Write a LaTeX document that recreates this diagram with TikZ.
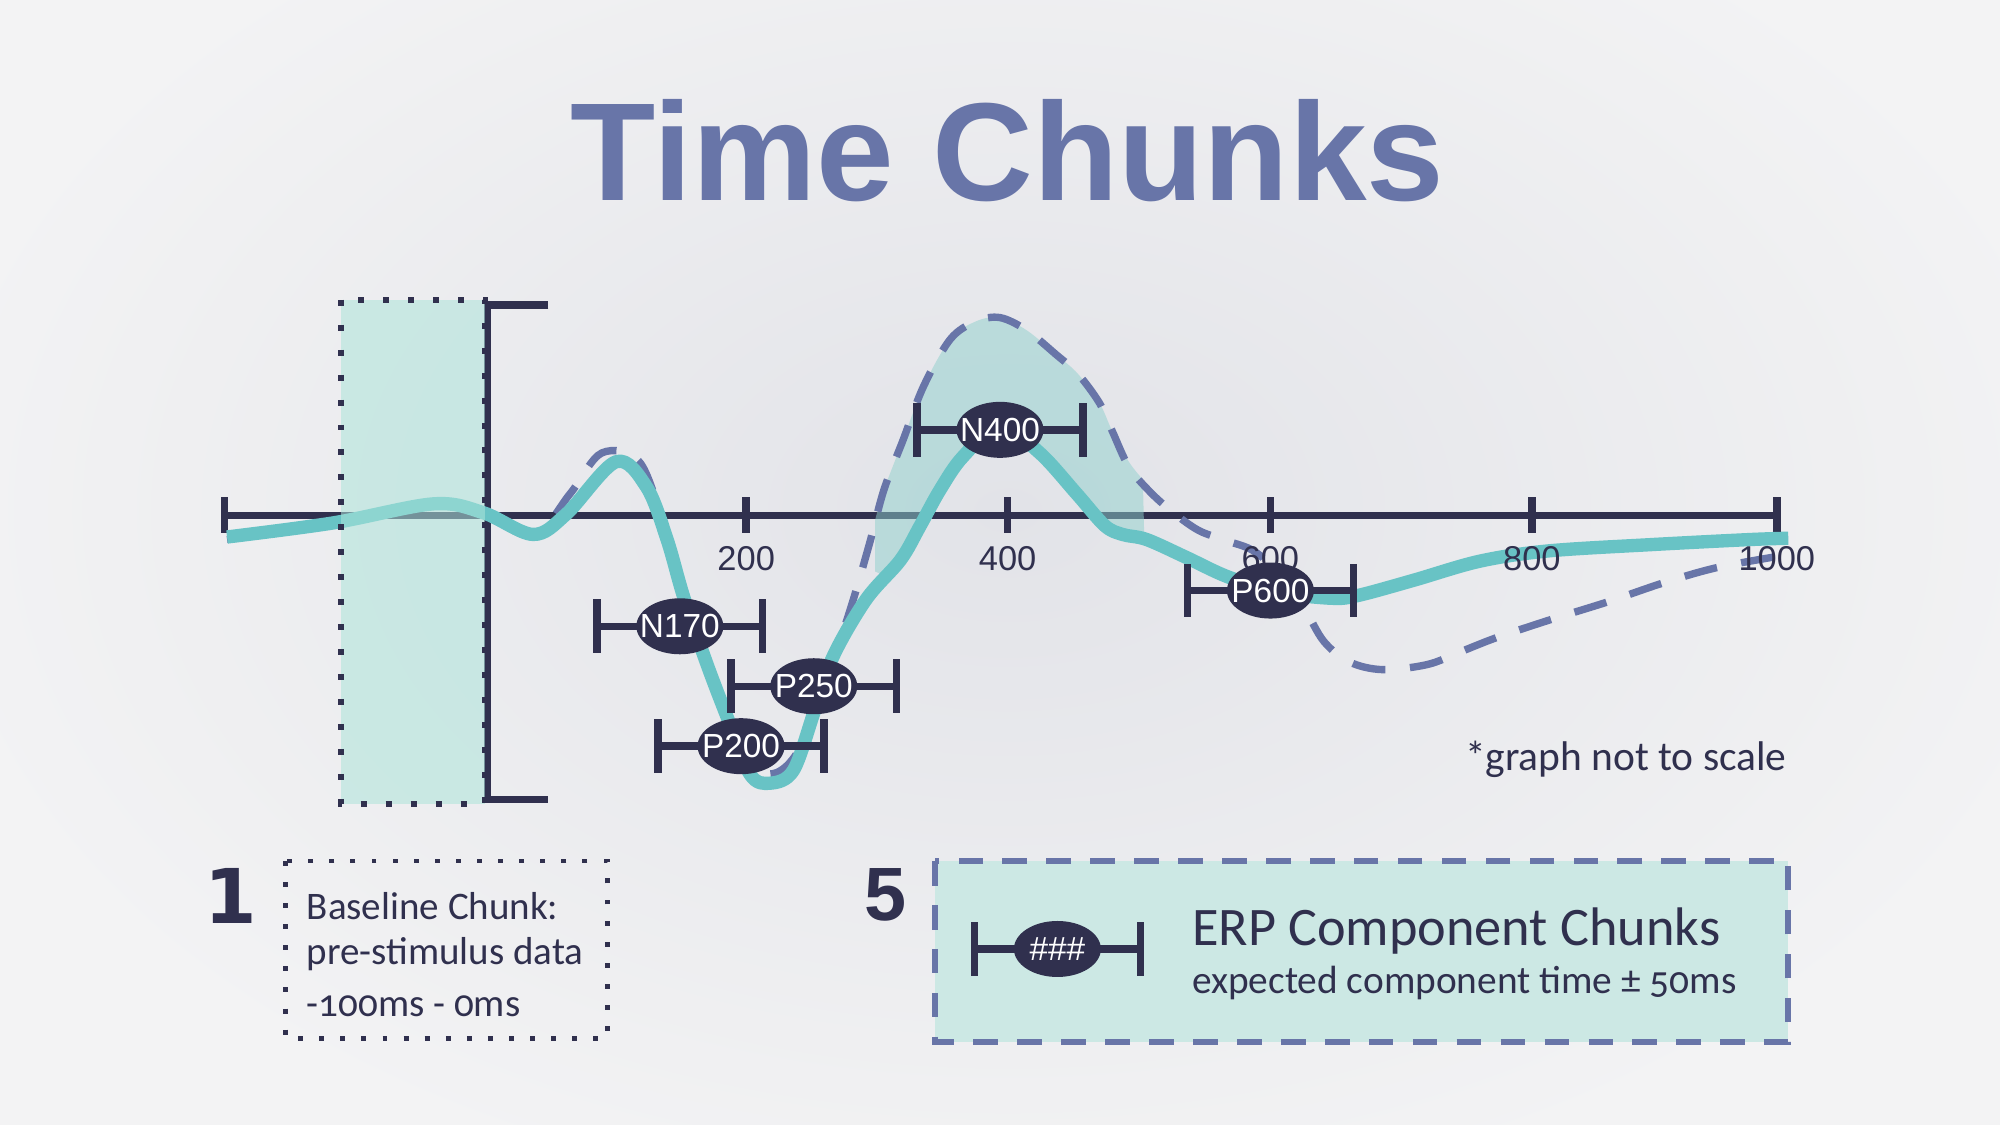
\documentclass[tikz,border=0pt]{standalone}
\usepackage{fontspec}
\usetikzlibrary{shapes.geometric}
\newfontfamily\bodyfont{Carlito}[Numbers=OldStyle]
\newfontfamily\arialfont{Liberation Sans}
\newfontfamily\dejafont{DejaVu Sans}
\definecolor{navy}{RGB}{48,48,78}
\definecolor{myteal}{RGB}{104,195,197}
\definecolor{purp}{RGB}{104,117,168}
\definecolor{boxfill}{RGB}{204,232,228}
\definecolor{basefill}{RGB}{173,228,218}
\definecolor{regionfill}{RGB}{143,208,205}
\definecolor{bgout}{RGB}{243,243,244}
\definecolor{bgin}{RGB}{226,227,232}
\tikzset{
  axisline/.style={line width=2.1pt, draw=navy},
  barline/.style={line width=2.1pt, draw=navy},
  tealcurve/.style={line width=3.8pt, draw=myteal, line join=round},
  dashcurve/.style={line width=2.1pt, draw=purp, dash pattern=on 9.5pt off 7pt},
  lbl/.style={ellipse, fill=navy, text=white, inner sep=0pt, minimum width=0.87cm, minimum height=0.56cm, font=\arialfont\fontsize{9.5pt}{10pt}\selectfont},
  ticklbl/.style={text=navy, inner sep=0pt, anchor=base, font=\arialfont\fontsize{9.8pt}{10pt}\selectfont},
  bodytext/.style={text=navy, inner sep=0pt, anchor=base west},
  dotbox/.style={draw=navy, line width=1.7pt, dash pattern=on 1.7pt off 5.4pt},
  smalldotbox/.style={draw=navy, line width=1.4pt, dash pattern=on 1.4pt off 4.6pt},
  erpbox/.style={draw=purp, fill=boxfill, line width=1.7pt, dash pattern=on 7pt off 5.5pt},
}
\newcommand\erpchunk[4]{%
  \coordinate (#1L) at ({#2-65},#3);
  \coordinate (#1R) at ({#2+65},#3);
  \draw[barline] (#1L) -- (#1R);
  \draw[barline] (#1L) ++(0,-21) -- ++(0,42);
  \draw[barline] (#1R) ++(0,-21) -- ++(0,42);
  \node[lbl] (#1) at (#2,#3) {\makebox[0pt]{#4}};
}
\begin{document}
\begin{tikzpicture}[x=0.012755cm, y=-0.012755cm]
% background
\path[use as bounding box, fill=bgout] (0,0) rectangle (1568,882);
\shade[inner color=bgin, outer color=bgout] (790,400) ellipse [x radius=860, y radius=560];

% title
\node[anchor=base, text=purp, inner sep=0pt, font=\arialfont\bfseries\fontsize{39.7pt}{40pt}\selectfont] (title) at (790,157) {Time Chunks};

% axis
\coordinate (axL) at (176,404);
\coordinate (axR) at (1393,404);
\draw[axisline] (axL) -- (axR);
\foreach \tx in {176,585,790,996,1201,1393}
  \draw[axisline] (\tx,390) -- (\tx,418);

% bracket
\coordinate (brT) at (430,239);
\coordinate (brB) at (430,627);
\draw[axisline] (brT) -- (382,239) -- (382,627) -- (brB);

% N400 effect region
\fill[regionfill, opacity=0.5]
  plot[smooth, tension=0.55] coordinates {(686,408) (693,384) (708,345) (724,303) (745,266) (765,252) (784,249) (805,259) (828,278) (845,293) (862,316) (872,338) (885,362) (896,376)}
  -- (897,418)
  -- plot[smooth, tension=0.55] coordinates {(880,419) (866,412) (844,387) (815,355) (784,334) (755,358) (737,384) (721,413) (706,439) (695,452)}
  -- (686,448) -- cycle;

% dashed curve
\draw[dashcurve] plot[smooth, tension=0.55] coordinates {(178,423) (261,411) (340,396) (379,403) (418,420) (447,387) (472,355) (502,363) (523,421) (536,468) (554,520) (572,566) (590,601) (608,606) (625,590) (642,550) (656,510) (669,470) (682,425) (693,384) (708,345) (724,303) (745,266) (765,252) (784,249) (805,259) (828,278) (845,293) (862,316) (872,338) (885,366) (902,386) (920,402) (940,416) (962,424) (983,432) (1003,450) (1022,476) (1038,503) (1058,519) (1084,525) (1119,521) (1145,511) (1173,500) (1215,486) (1260,472) (1304,457) (1346,445) (1395,436)};

% teal curve
\draw[tealcurve] plot[smooth, tension=0.55] coordinates {(178,421) (261,410) (340,395) (379,402) (418,419) (444,403) (483,362) (507,382) (523,423) (536,468) (554,520) (570,562) (588,607) (604,614) (622,604) (638,559) (653,515) (679,470) (706,439) (721,413) (737,384) (755,358) (784,334) (815,355) (844,387) (866,412) (880,419) (899,423) (930,437) (962,452) (1000,464) (1043,469) (1064,467) (1108,455) (1160,440) (1213,432) (1294,427) (1372,423) (1402,422)};

% tick labels
\node[ticklbl] (t200) at (585,447) {200};
\node[ticklbl] (t400) at (790,447) {400};
\node[ticklbl] (t600) at (996,447) {600};
\node[ticklbl] (t800) at (1201,447) {800};
\node[ticklbl] (t1000) at (1393,447) {1000};

% baseline chunk box
\fill[basefill, opacity=0.55] (267,235) rectangle (380,630);
\draw[dotbox] (267,235) rectangle (380,630);

% component chunks
\erpchunk{n170}{533}{491}{N170}
\erpchunk{p250}{638}{538}{P250}
\erpchunk{p200}{581}{585}{P200}
\erpchunk{n400}{784}{337}{N400}
\erpchunk{p600}{996}{463}{P600}

% note
\node[bodytext, font=\bodyfont\fontsize{11.8pt}{13pt}\selectfont] (note) at (1148,604) {*graph not to scale};

% legend 1
\node[text=navy, inner sep=0pt, anchor=base, font=\dejafont\bfseries\fontsize{21.5pt}{22pt}\selectfont] (num1) at (181,724) {1};
\draw[smalldotbox] (224,675) rectangle (476,814);
\node[bodytext, font=\bodyfont\fontsize{11.1pt}{12pt}\selectfont] (bl1) at (240,721) {Baseline Chunk:};
\node[bodytext, font=\bodyfont\fontsize{11.1pt}{12pt}\selectfont] (bl2) at (240,756) {pre-stimulus data};
\node[bodytext, font=\bodyfont\fontsize{11.1pt}{12pt}\selectfont] (bl3) at (240,797) {-100ms - 0ms};

% legend 5
\node[text=navy, inner sep=0pt, anchor=base, font=\arialfont\bfseries\fontsize{21.5pt}{22pt}\selectfont] (num5) at (694,722) {5};
\draw[erpbox] (733,675) rectangle (1402,817);
\erpchunk{icon}{829}{744}{\#\#\#}
\node[bodytext, font=\bodyfont\fontsize{15.45pt}{17pt}\selectfont] (erpT) at (934,741) {ERP Component Chunks};
\node[bodytext, font=\bodyfont\fontsize{11.2pt}{12pt}\selectfont] (erpS) at (934,779) {expected component time ± 50ms};
\end{tikzpicture}
\end{document}
